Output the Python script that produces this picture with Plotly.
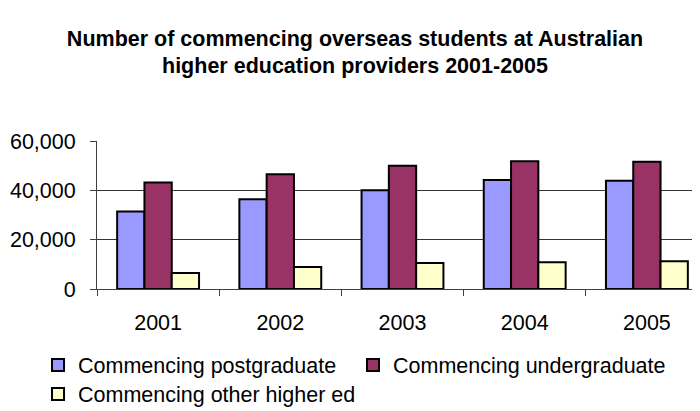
import plotly.graph_objects as go

years = ["2001", "2002", "2003", "2004", "2005"]
postgraduate = [31400, 36400, 40000, 44200, 43900]
undergraduate = [43200, 46500, 50000, 51800, 51600]
other_higher_ed = [6500, 8900, 10500, 10800, 11200]
y_ticks = [0, 20000, 40000, 60000]
y_tick_labels = ["0", "20,000", "40,000", "60,000"]

series = [
    ("Commencing postgraduate", postgraduate, "#9999FF", "legend"),
    ("Commencing undergraduate", undergraduate, "#993366", "legend2"),
    ("Commencing other higher ed", other_higher_ed, "#FFFFCC", "legend3"),
]

FONT = "Liberation Sans, Arial, sans-serif"
FS = 21.5

fig = go.Figure()
for name, vals, color, lg in series:
    fig.add_trace(go.Bar(
        x=years, y=vals, name=name, legend=lg,
        marker=dict(color=color, line=dict(color="#000000", width=2)),
    ))

def leg(x_px, y_px):
    return dict(
        orientation="h", x=x_px / 700, xref="container", xanchor="left",
        y=1 - y_px / 411, yref="container", yanchor="middle",
        font=dict(family=FONT, size=FS, color="#000000"),
        bgcolor="rgba(0,0,0,0)", borderwidth=0,
    )

fig.update_layout(
    width=700, height=411,
    margin=dict(l=89, r=0, t=133, b=130, autoexpand=False),
    paper_bgcolor="white", plot_bgcolor="white",
    font=dict(family=FONT, size=FS, color="#000000"),
    barmode="group", bargap=0.33, bargroupgap=0,
    title=dict(
        text="<b>Number of commencing overseas students at Australian<br>higher education providers 2001-2005</b>",
        x=347 / 700, xanchor="center", xref="container",
        y=1 - 37.5 / 411, yanchor="middle", yref="container",
        font=dict(family=FONT, size=FS, color="#000000"),
        automargin=False,
    ),
    showlegend=True,
    legend=leg(30, 357),
    legend2=leg(345, 357),
    legend3=leg(30, 386),
)

fig.update_xaxes(
    showline=True, linecolor="#404040", linewidth=1,
    ticks="outside", tickson="boundaries", ticklen=6, tickcolor="#404040",
    ticklabelstandoff=14, automargin=False,
    showgrid=False, tickfont=dict(size=FS),
)
fig.update_yaxes(
    range=[0, 60000], tickvals=y_ticks, ticktext=y_tick_labels,
    showline=True, linecolor="#404040", linewidth=1,
    ticks="outside", ticklen=6, tickcolor="#404040",
    ticklabelstandoff=10, automargin=False,
    showgrid=True, gridcolor="#333333", gridwidth=1,
    zeroline=False, tickfont=dict(size=FS),
)

fig.write_html("out.html")
